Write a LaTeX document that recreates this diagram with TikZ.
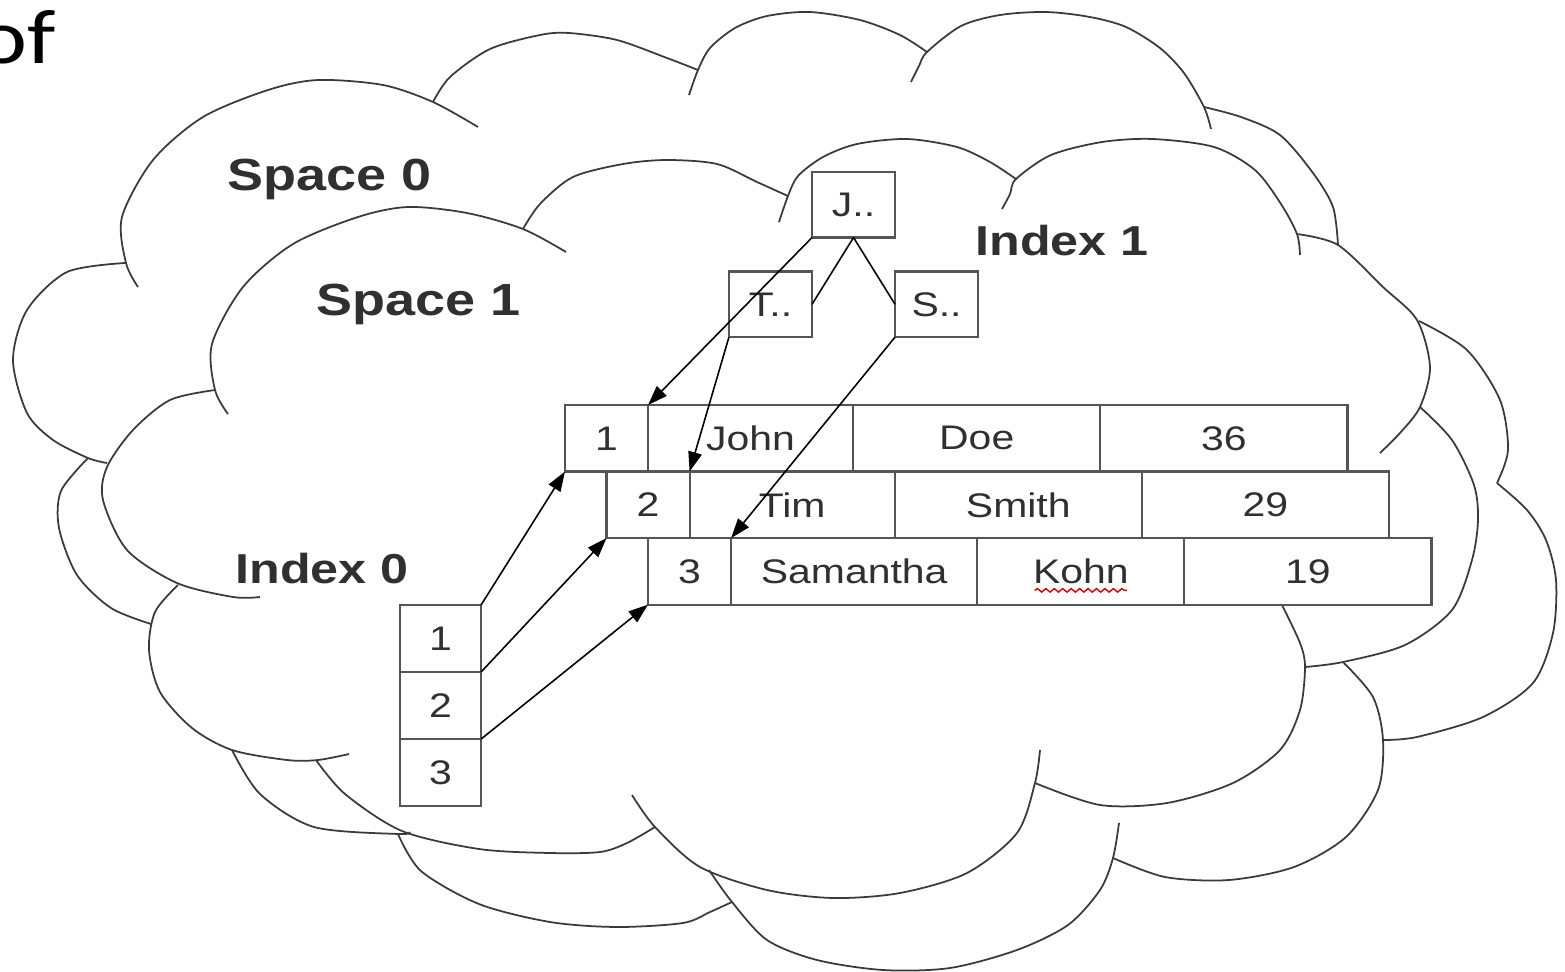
\documentclass[tikz,border=0pt]{standalone}
\usepackage{fontspec}
\setmainfont[FakeStretch=1.2]{Liberation Sans}
\newfontfamily\offont[FakeStretch=1.2]{Carlito}
\usetikzlibrary{positioning,arrows.meta,calc,decorations.pathmorphing}
\definecolor{boxgray}{HTML}{555555}
\definecolor{txtgray}{HTML}{303030}
\definecolor{cloudgray}{HTML}{3A3A3A}

\begin{document}
\begin{tikzpicture}[x=0.01cm, y=-0.01cm, node distance=0cm,
  lobe/.style={draw=cloudgray, line width=0.5pt},
  cell/.style={draw=boxgray, line width=0.6pt, fill=white, text=txtgray, outer sep=0pt,
    inner sep=0pt, minimum height=0.665cm, font=\fontsize{9.7}{11}\selectfont},
  num/.style={cell, minimum width=0.83cm},
  idx/.style={cell, minimum width=0.81cm, minimum height=0.67cm},
  key/.style={cell, minimum width=0.83cm, minimum height=0.655cm},
  lbl/.style={text=txtgray, anchor=base, font=\fontsize{11.9}{14}\selectfont\bfseries},
  space/.style={lbl, font=\fontsize{12.8}{15}\selectfont\bfseries},
  arr/.style={-{Triangle[length=5.6pt,width=3.9pt]}, line width=0.45pt},
  link/.style={line width=0.45pt},
  wavy/.style={draw=red!85!black, line width=0.4pt, decorate,
    decoration={snake, amplitude=0.5pt, segment length=2.4pt}}]
\useasboundingbox (0,0) rectangle (1565,972);

\begin{scope}[lobe]
\draw plot[smooth] coordinates {(138,287) (126,263) (122,217) (153,160) (203,117) (268,90) (318,80) (383,85) (433,102) (478,127)};
\draw plot[smooth] coordinates {(433,102) (450,77) (490,49) (540,35) (569,33) (617,40) (667,58) (698,70)};
\draw plot[smooth] coordinates {(689,95) (698,70) (710,48) (735,28) (767,16) (810,12) (860,20) (900,35) (927,52)};
\draw plot[smooth] coordinates {(911,82) (919,66) (927,52) (961,26) (1000,15) (1046,12) (1090,17) (1126,27) (1160,48) (1184,73) (1204,107) (1211,129)};
\draw plot[smooth] coordinates {(1204,107) (1241,117) (1280,135) (1313,173) (1333,207) (1338,245)};
\draw plot[smooth] coordinates {(125,263) (67,272) (27,310) (13,360) (27,413) (53,440) (88,458) (107,463)};
\draw plot[smooth] coordinates {(88,458) (61,491) (59,528) (77,575) (111,608) (151,624)};
\draw plot[smooth] coordinates {(228,414) (215,390) (212,344) (243,287) (293,244) (358,217) (408,207) (467,213) (523,229) (566,252)};
\draw plot[smooth] coordinates {(523,229) (540,204) (573,177) (623,164) (667,160) (717,164) (757,182) (788,196)};
\draw plot[smooth] coordinates {(779,222) (788,196) (798,176) (823,157) (857,144) (907,139) (957,147) (990,162) (1016,179)};
\draw plot[smooth] coordinates {(1002,209) (1010,194) (1016,179) (1051,155) (1102,142) (1153,139) (1214,147) (1255,170) (1281,204) (1297,234) (1300,255)};
\draw plot[smooth] coordinates {(1297,234) (1338,245) (1383,287) (1417,320) (1430,367) (1420,407) (1400,433) (1380,453)};
\draw plot[smooth] coordinates {(1420,407) (1452,440) (1474,485) (1478,520) (1472,560) (1452,610) (1405,645) (1343,662) (1305,667)};
\draw plot[smooth] coordinates {(215,390) (170,400) (133,430) (107,467) (103,500) (127,550) (177,583) (233,597) (260,597)};
\draw plot[smooth] coordinates {(178,585) (155,612) (149,650) (160,692) (192,728) (232,750) (287,760) (318,760) (349,754)};
\draw plot[smooth] coordinates {(232,750) (260,794) (314,827) (398,834) (410,832)};
\draw plot[smooth] coordinates {(1419,321) (1467,350) (1500,400) (1508,450) (1497,483)};
\draw plot[smooth] coordinates {(1497,483) (1527,510) (1546,540) (1556,580) (1553,633) (1533,683) (1483,717) (1417,737) (1383,740)};
\draw plot[smooth] coordinates {(1343,662) (1373,697) (1383,740) (1378,790) (1346,837) (1294,867) (1229,880) (1165,877) (1113,858)};
\draw plot[smooth] coordinates {(1282,605) (1300,643) (1305,667) (1300,710) (1280,750) (1233,783) (1167,803) (1100,805) (1035,783)};
\draw plot[smooth] coordinates {(632,795) (655,827) (700,867) (767,890) (833,898) (900,893) (967,873) (1017,833) (1035,783) (1040,750)};
\draw plot[smooth] coordinates {(709,870) (732,902) (767,940) (817,960) (883,970) (950,968) (1017,950) (1068,925) (1100,890) (1113,858) (1119,823)};
\draw plot[smooth] coordinates {(316,760) (345,794) (402,831) (479,849) (550,853) (600,852) (627,843) (655,827)};
\draw plot[smooth] coordinates {(398,834) (421,871) (479,904) (550,922) (617,927) (683,923) (710,912) (732,902)};
\end{scope}

\node[anchor=base west, inner sep=0pt, font=\offont\fontsize{22}{26}\selectfont] (of) at (-22,63) {of};
\node[space] (sp0) at (330,190) {Space 0};
\node[space] (sp1) at (419,315) {Space 1};
\node[lbl] (ix1) at (1062,255) {Index 1};
\node[lbl] (ix0) at (322,583) {Index 0};

\node[num, anchor=north west] (n1) at (565,405) {1};
\node[cell, minimum width=2.05cm, right=of n1] (fn1) {John};
\node[cell, minimum width=2.47cm, right=of fn1] (ln1) {Doe};
\node[cell, minimum width=2.47cm, right=of ln1] (age1) {36};
\node[num, anchor=north west] (n2) at (n1.south) {2};
\node[cell, minimum width=2.05cm, right=of n2] (fn2) {Tim};
\node[cell, minimum width=2.47cm, right=of fn2] (ln2) {Smith};
\node[cell, minimum width=2.47cm, right=of ln2] (age2) {29};
\node[num, anchor=north west] (n3) at (n2.south) {3};
\node[cell, minimum width=2.46cm, right=of n3] (fn3) {Samantha};
\node[cell, minimum width=2.07cm, right=of fn3] (ln3) {Kohn};
\node[cell, minimum width=2.47cm, right=of ln3] (age3) {19};
\draw[wavy] ($(ln3.center)+(-46,19)$) -- ($(ln3.center)+(46,19)$);

\node[idx, anchor=north west] (i1) at (400,605) {1};
\node[idx, below=of i1] (i2) {2};
\node[idx, below=of i2] (i3) {3};

\node[key, anchor=north west] (J) at (812,172) {J..};
\node[key, anchor=north east] (T) at ($(J.south west)+(0,34)$) {T..};
\node[key, anchor=north west] (S) at ($(J.south east)+(0,34)$) {S..};

\draw[link] (J.south) -- (T.east);
\draw[link] (J.south) -- (S.west);
\draw[arr] (J.south west) -- (fn1.north west);
\draw[arr] (T.south west) -- (fn2.north west);
\draw[arr] (S.south west) -- (fn3.north west);
\draw[arr] (i1.north east) -- (n1.south west);
\draw[arr] (i2.north east) -- (n2.south west);
\draw[arr] (i3.north east) -- (n3.south west);
\end{tikzpicture}
\end{document}
